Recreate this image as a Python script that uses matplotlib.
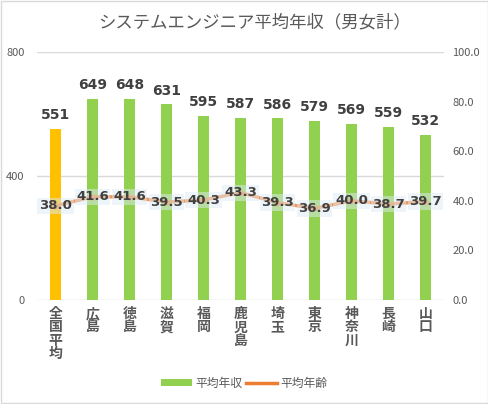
import matplotlib
matplotlib.use("Agg")
import numpy as np
from matplotlib import pyplot as plt
from matplotlib.patches import Rectangle, Patch
from matplotlib.lines import Line2D

plt.rcParams['font.family'] = ['Noto Sans CJK JP', 'DejaVu Sans']

prefectures = ["全国平均", "広島", "徳島", "滋賀", "福岡", "鹿児島", "埼玉", "東京", "神奈川", "長崎", "山口"]
salary = [551, 649, 648, 631, 595, 587, 586, 579, 569, 559, 532]
age = [38.0, 41.6, 41.6, 39.5, 40.3, 43.3, 39.3, 36.9, 40.0, 38.7, 39.7]

green = "#92D050"
gold = "#FFC000"
orange = "#ED7D31"
text_gray = "#595959"

fig = plt.figure(figsize=(4.89, 4.04), dpi=100)
fig.patches.append(Rectangle((0.002, 0.002), 0.996, 0.996, transform=fig.transFigure,
                             fill=False, edgecolor="#d9d9d9", linewidth=1))

ax = fig.add_axes([37 / 489, 1 - 300 / 404, 407 / 489, 248 / 404])
x = np.arange(len(prefectures))
colors = [gold] + [green] * (len(prefectures) - 1)
bars = ax.bar(x, salary, width=0.3, color=colors, zorder=2)

ax.set_ylim(0, 800)
ax.set_xlim(-0.5, len(prefectures) - 0.5)
ax.set_yticks([0, 400, 800])
ax.grid(axis='y', color="#d9d9d9", linewidth=1, zorder=0)
ax.tick_params(axis='y', length=0, labelsize=8, labelcolor=text_gray, pad=9)
ax.tick_params(axis='x', length=0, pad=5)
for s in ax.spines.values():
    s.set_visible(False)
ax.set_xticks(x)
ax.set_xticklabels(["\n".join(p) for p in prefectures], fontsize=10, color=text_gray,
                   linespacing=0.95, va='top', fontweight='bold')

for b, v in zip(bars, salary):
    ax.text(b.get_x() + b.get_width() / 2, v + 22, str(v), ha='center', va='bottom',
            fontsize=10, fontweight='bold', color="#404040", family=['DejaVu Sans'])

ax2 = ax.twinx()
ax2.set_ylim(0, 100)
ax2.set_yticks(np.arange(0, 101, 20))
ax2.set_yticklabels([f"{t:.1f}" for t in np.arange(0, 101, 20)])
ax2.tick_params(axis='y', length=0, labelsize=8, labelcolor=text_gray, pad=6)
for s in ax2.spines.values():
    s.set_visible(False)
ax2.plot(x, age, color=orange, linewidth=2.5, marker='o', markersize=3.5, alpha=0.8, zorder=3)
for xi, a in zip(x, age):
    ax2.text(xi, a, f"{a:.1f}", ha='center', va='center', fontsize=9.5, fontweight='bold',
             color="#404040", family=['DejaVu Sans'], zorder=4,
             bbox=dict(boxstyle='square,pad=0.12', facecolor="#DDEBF7", edgecolor='none', alpha=0.5))

fig.text(255 / 489, 1 - 22 / 404, "システムエンジニア平均年収（男女計）", ha='center', va='center',
         fontsize=12.5, color=text_gray)

handles = [Patch(facecolor=green, label="平均年収"),
           Line2D([0], [0], color=orange, linewidth=2.5, label="平均年齢")]
fig.legend(handles=handles, loc='center', bbox_to_anchor=(0.5, 1 - 383 / 404), ncol=2,
           frameon=False, fontsize=8.5, handlelength=2.6, handleheight=0.6, columnspacing=0.3,
           handletextpad=0.3, labelcolor=text_gray)

fig.savefig("out.png", dpi=100)
